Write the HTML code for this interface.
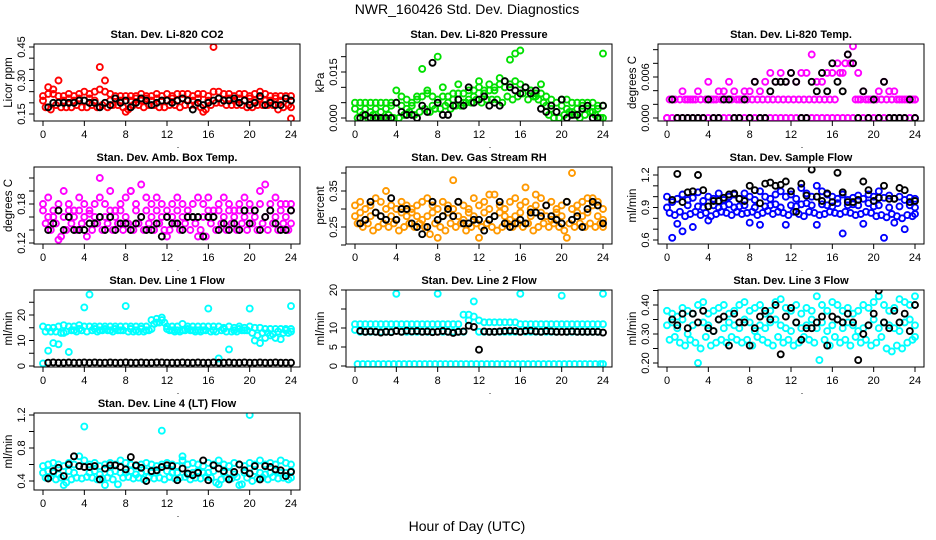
<!DOCTYPE html>
<html><head><meta charset="utf-8">
<style>
html,body{margin:0;padding:0;background:#fff;}
svg{display:block;font-family:"Liberation Sans",Arial,sans-serif;}
</style></head>
<body>
<svg id="chart" width="936" height="540" viewBox="0 0 936 540" xmlns="http://www.w3.org/2000/svg">
<text x="467" y="14" font-size="14" text-anchor="middle">NWR_160426  Std. Dev. Diagnostics</text>
<text x="467" y="531" font-size="14" text-anchor="middle">Hour of Day (UTC)</text>
</svg>
<script>
const hoursA = [0,0.5,1,1.5,2,2.5,3,3.5,4,4.5,5,5.5,6,6.5,7,7.5,8,8.5,9,9.5,10,10.5,11,11.5,12,12.5,13,13.5,14,14.5,15,15.5,16,16.5,17,17.5,18,18.5,19,19.5,20,20.5,21,21.5,22,22.5,23,23.5,24];
const hoursB = [0.25,0.75,1.25,1.75,2.25,2.75,3.25,3.75,4.25,4.75,5.25,5.75,6.25,6.75,7.25,7.75,8.25,8.75,9.25,9.75,10.25,10.75,11.25,11.75,12.25,12.75,13.25,13.75,14.25,14.75,15.25,15.75,16.25,16.75,17.25,17.75,18.25,18.75,19.25,19.75,20.25,20.75,21.25,21.75,22.25,22.75,23.25,23.75,24];
const blackHours = [0.5,1,1.5,2,2.5,3,3.5,4,4.5,5,5.5,6,6.5,7,7.5,8,8.5,9,9.5,10,10.5,11,11.5,12,12.5,13,13.5,14,14.5,15,15.5,16,16.5,17,17.5,18,18.5,19,19.5,20,20.5,21,21.5,22,22.5,23,23.5,24];
const xTicks = [0,4,8,12,16,20,24];

const co2C1 = [0.23,0.24,0.24,0.23,0.23,0.24,0.23,0.24,0.25,0.24,0.25,0.26,0.25,0.24,0.23,0.23,0.23,0.23,0.23,0.24,0.23,0.23,0.24,0.23,0.24,0.23,0.24,0.24,0.24,0.23,0.24,0.24,0.23,0.25,0.25,0.24,0.24,0.23,0.24,0.24,0.23,0.24,0.25,0.24,0.23,0.23,0.23,0.23,0.23];
const co2C2 = [0.18,0.17,0.19,0.18,0.18,0.18,0.19,0.18,0.18,0.19,0.18,0.19,0.18,0.19,0.19,0.18,0.17,0.19,0.19,0.18,0.19,0.19,0.18,0.18,0.19,0.19,0.18,0.19,0.19,0.19,0.18,0.17,0.19,0.20,0.20,0.19,0.19,0.19,0.19,0.18,0.18,0.19,0.19,0.19,0.19,0.17,0.18,0.19,0.18];
const co2C3 = [0.21,0.27,0.26,0.30,0.21,0.22,0.21,0.22,0.21,0.22,0.21,0.36,0.30,0.21,0.22,0.21,0.16,0.21,0.22,0.21,0.22,0.21,0.22,0.21,0.21,0.22,0.21,0.22,0.21,0.21,0.22,0.16,0.21,0.45,0.22,0.21,0.22,0.21,0.22,0.21,0.22,0.21,0.22,0.21,0.21,0.22,0.21,0.22,0.13];
const co2Black = [0.18,0.20,0.20,0.20,0.20,0.20,0.21,0.21,0.20,0.20,0.18,0.20,0.19,0.22,0.20,0.21,0.18,0.20,0.22,0.21,0.19,0.20,0.21,0.21,0.20,0.21,0.22,0.21,0.17,0.20,0.19,0.20,0.21,0.22,0.21,0.21,0.22,0.20,0.21,0.19,0.20,0.23,0.19,0.20,0.19,0.19,0.22,0.21];

const presC1 = [0.005,0.005,0.005,0.005,0.005,0.005,0.005,0.005,0.005,0.007,0.006,0.005,0.006,0.007,0.008,0.007,0.006,0.007,0.007,0.008,0.008,0.008,0.009,0.009,0.010,0.009,0.009,0.010,0.011,0.012,0.011,0.012,0.011,0.010,0.009,0.008,0.008,0.007,0.006,0.005,0.006,0.006,0.005,0.005,0.005,0.005,0.005,0.004,0.004];
const presC2 = [0.000,0.001,0.000,0.001,0.000,0.000,0.001,0.000,0.000,0.001,0.002,0.001,0.002,0.003,0.002,0.003,0.003,0.004,0.003,0.004,0.004,0.005,0.005,0.006,0.005,0.006,0.006,0.006,0.005,0.007,0.006,0.007,0.008,0.006,0.007,0.006,0.005,0.001,0.000,0.000,0.001,0.002,0.001,0.000,0.001,0.002,0.001,0.000,0.000];
const presC3 = [0.003,0.002,0.003,0.002,0.003,0.002,0.003,0.004,0.009,0.004,0.003,0.004,0.007,0.016,0.009,0.004,0.020,0.010,0.005,0.006,0.011,0.005,0.006,0.007,0.012,0.008,0.011,0.009,0.013,0.010,0.019,0.021,0.022,0.010,0.009,0.007,0.011,0.004,0.003,0.002,0.004,0.003,0.002,0.003,0.004,0.003,0.002,0.003,0.021];
const presBlack = [0.000,0.001,0.000,0.000,0.000,0.000,0.000,0.005,0.002,0.001,0.001,0.000,0.004,0.002,0.018,0.005,0.001,0.001,0.004,0.006,0.004,0.010,0.005,0.006,0.007,0.004,0.005,0.004,0.012,0.010,0.009,0.008,0.010,0.008,0.009,0.003,0.002,0.004,0.002,0.006,0.000,0.001,0.001,0.003,0.004,0.000,0.000,0.004];

const tempC1 = [0,0,0,0,0,0,0,0,0,0,0,0,0,0,0,0,0,0,0,0,0,0,0,0,0,0,0,0,0,0,0,0,0,0,0,0,0,0.0027,0,0,0,0,0,0,0,0,0,0,0];
const tempC2 = [0.0027,0.0027,0.0027,0.0027,0.0027,0.0027,0.0027,0.0027,0.0027,0.0027,0.0027,0.0027,0.0027,0.0027,0.0027,0.0027,0.0027,0.0027,0.0027,0.0027,0.0027,0.0027,0.0027,0.0027,0.0027,0.0027,0.0027,0.0027,0.0027,0.0027,0.0027,0.0027,0.0027,0.0066,0.008,0.008,0.0027,0.0027,0.0027,0.0027,0.0027,0.0027,0.0027,0.0027,0.0027,0.0027,0.0027,0.0027,0.0027];
const tempC3 = [0,0.0027,0,0.0039,0.0027,0.0027,0.0039,0,0.0053,0.0027,0.0039,0.0039,0.0053,0.0039,0.0027,0.0039,0.0039,0.0053,0.0039,0.0053,0.0066,0.0053,0.0066,0.0053,0.0066,0.0053,0.0066,0.0066,0.0093,0.0053,0.0053,0.0066,0.0066,0.008,0.0066,0.0093,0.0105,0.0066,0.0039,0.0027,0.0027,0.0039,0.0053,0.0039,0.0039,0.0027,0.0027,0.0027,0.0027];
const tempBlack = [0.0027,0,0,0,0,0,0,0.0027,0,0,0.0027,0.0027,0,0,0.0027,0,0.0053,0,0,0.0039,0.0053,0.0053,0.0053,0.0066,0.0053,0,0,0.0053,0.0039,0.0066,0.0039,0.0080,0.0053,0.0039,0.0093,0.0080,0,0.0039,0,0.0027,0,0.0053,0,0,0,0,0.0027,0];

const ambC1 = [0.18,0.19,0.17,0.18,0.20,0.18,0.17,0.19,0.18,0.17,0.18,0.19,0.18,0.20,0.17,0.18,0.19,0.20,0.18,0.21,0.19,0.18,0.19,0.18,0.17,0.18,0.19,0.18,0.17,0.18,0.19,0.18,0.19,0.17,0.18,0.19,0.18,0.17,0.18,0.19,0.18,0.17,0.18,0.21,0.18,0.19,0.18,0.18,0.18];
const ambC2 = [0.15,0.14,0.15,0.13,0.14,0.15,0.14,0.15,0.13,0.14,0.15,0.14,0.15,0.14,0.15,0.14,0.15,0.14,0.15,0.14,0.15,0.14,0.15,0.14,0.14,0.15,0.14,0.15,0.14,0.15,0.14,0.13,0.15,0.14,0.15,0.14,0.15,0.14,0.15,0.14,0.15,0.14,0.15,0.14,0.15,0.14,0.15,0.14,0.15];
const ambC3 = [0.17,0.16,0.16,0.125,0.16,0.17,0.16,0.17,0.16,0.165,0.16,0.22,0.16,0.17,0.16,0.17,0.16,0.20,0.17,0.16,0.17,0.16,0.17,0.16,0.13,0.16,0.17,0.16,0.17,0.16,0.13,0.16,0.17,0.16,0.17,0.16,0.17,0.16,0.17,0.16,0.17,0.16,0.20,0.16,0.17,0.16,0.17,0.16,0.17];
const ambBlack = [0.14,0.15,0.17,0.14,0.16,0.14,0.14,0.14,0.15,0.15,0.16,0.14,0.16,0.14,0.15,0.15,0.14,0.15,0.16,0.14,0.14,0.15,0.13,0.16,0.15,0.15,0.14,0.16,0.16,0.16,0.13,0.16,0.16,0.14,0.15,0.14,0.15,0.14,0.17,0.15,0.17,0.14,0.16,0.17,0.15,0.14,0.14,0.17];

const rhC1 = [0.31,0.32,0.30,0.31,0.33,0.32,0.30,0.31,0.30,0.32,0.31,0.30,0.31,0.32,0.33,0.31,0.30,0.32,0.31,0.30,0.32,0.31,0.30,0.33,0.31,0.32,0.30,0.34,0.31,0.30,0.32,0.33,0.31,0.32,0.30,0.31,0.33,0.31,0.32,0.30,0.31,0.32,0.30,0.31,0.32,0.33,0.31,0.32,0.30];
const rhC2 = [0.26,0.25,0.26,0.24,0.25,0.26,0.25,0.26,0.24,0.25,0.26,0.25,0.26,0.25,0.23,0.26,0.25,0.24,0.26,0.25,0.26,0.24,0.25,0.26,0.25,0.26,0.25,0.24,0.25,0.26,0.25,0.26,0.25,0.26,0.24,0.25,0.26,0.25,0.26,0.25,0.24,0.26,0.25,0.26,0.25,0.26,0.25,0.26,0.25];
const rhC3 = [0.28,0.29,0.27,0.28,0.29,0.28,0.35,0.28,0.27,0.29,0.28,0.29,0.28,0.27,0.28,0.29,0.22,0.28,0.29,0.38,0.28,0.27,0.29,0.28,0.22,0.29,0.34,0.28,0.29,0.28,0.27,0.28,0.29,0.36,0.28,0.34,0.29,0.28,0.27,0.29,0.28,0.22,0.40,0.29,0.28,0.29,0.33,0.28,0.27];
const rhBlack = [0.26,0.27,0.32,0.29,0.28,0.27,0.33,0.27,0.30,0.30,0.26,0.25,0.23,0.25,0.32,0.27,0.28,0.30,0.28,0.32,0.26,0.26,0.27,0.27,0.24,0.27,0.28,0.32,0.26,0.25,0.26,0.27,0.26,0.29,0.29,0.28,0.31,0.28,0.27,0.26,0.32,0.27,0.28,0.25,0.30,0.32,0.31,0.26];

const sfC1 = [1.0,0.95,0.98,1.02,0.97,0.99,1.04,0.96,1.0,0.98,1.03,0.97,1.0,1.02,0.98,1.03,1.0,0.97,1.05,1.0,0.98,1.02,1.05,1.0,1.02,0.98,1.08,1.03,1.0,1.1,1.05,1.02,1.0,0.98,1.02,0.97,0.99,1.01,0.98,1.02,1.0,1.05,0.99,1.01,0.98,1.0,0.97,0.99,0.98];
const sfC2 = [0.85,0.83,0.86,0.82,0.84,0.86,0.83,0.85,0.82,0.84,0.86,0.85,0.83,0.86,0.84,0.85,0.86,0.83,0.85,0.87,0.84,0.86,0.85,0.83,0.86,0.84,0.82,0.86,0.85,0.83,0.84,0.86,0.85,0.84,0.86,0.85,0.83,0.84,0.86,0.85,0.82,0.83,0.81,0.84,0.82,0.80,0.83,0.82,0.84];
const sfC3 = [0.9,0.62,0.75,0.68,0.92,0.72,0.91,0.9,0.78,0.92,0.9,0.91,0.93,0.9,0.91,0.92,0.76,0.9,0.74,0.91,0.92,0.93,0.90,0.74,0.92,0.91,0.93,0.94,0.92,0.74,0.93,0.92,0.91,0.94,0.66,0.92,0.93,0.92,0.75,0.94,0.91,0.92,0.62,0.90,0.76,0.91,0.70,0.92,0.90];
const sfBlack = [0.97,1.21,0.95,1.04,1.05,1.20,1.06,0.91,0.96,0.96,0.99,1.02,1.03,0.98,0.96,1.10,1.06,0.94,1.12,1.13,1.10,1.11,1.14,1.05,0.86,1.12,1.01,1.25,1.00,0.96,1.03,0.95,1.22,1.04,0.95,0.95,0.97,1.14,1.06,0.96,0.99,1.10,0.98,0.98,1.08,1.06,0.95,0.96];

const l1C1 = [15.5,15,15,15.5,16,15.5,15.5,16,15.5,15.5,15.5,15.5,15.5,15.5,15.5,15.5,15.5,15.5,15.5,15.5,15.5,18,18.5,18,15.5,15.5,15.5,16.5,15.5,15.5,15.5,15.5,15.5,15.5,15.5,15,15.5,15,15.5,15,15.5,15,15,14.5,14.5,14.5,14.5,14.5,14.5];
const l1C2 = [13.5,13.5,13.5,13,13.5,14,13.5,14,13.5,14,13.5,14,14,13.5,14,14,13.5,13.5,13.5,13.5,14,16.5,17,17,14,13.5,13.5,14,14,13.5,13.5,14,13.5,13.5,14,13.5,13.5,13.5,14,14,13,12,13,13,12.5,13.5,13,13,13.5];
const l1C3 = [1,6,9,8.5,13,5.5,14,14.5,23,28,14.5,14,14.5,14,14.5,14,23.5,14.5,14,14.5,14,14.5,17,19,14.5,14,14,14,14.5,14,14,14,22.5,14,3,14.5,6.5,14,14.5,14,22.5,10,9,11,12,11,10.5,14,23.5];
const l1Black = [1.3,1.4,1.3,1.3,1.4,1.3,1.3,1.4,1.3,1.4,1.3,1.3,1.4,1.3,1.3,1.4,1.3,1.3,1.4,1.3,1.3,1.4,1.4,1.3,1.3,1.3,1.4,1.3,1.3,1.4,1.3,1.3,1.4,1.3,1.3,1.4,1.3,1.3,1.4,1.3,1.3,1.4,1.3,1.3,1.4,1.3,1.3,1.3];

const l2C1 = [11,11,11,11,11,11,11,11,11,11,11,11,11,11,11,11,11,11,11,11,11,13.5,13.5,13,12,11.5,11.5,11.5,11.5,11.5,11.5,11.5,11,11,11,11,11,11,11,11,11,11,11,11,11,11,11,11,11];
const l2C2 = [0.5,0.5,0.5,0.5,0.5,0.5,0.5,0.5,0.5,0.5,0.5,0.5,0.5,0.5,0.5,0.5,0.5,0.5,0.5,0.5,0.5,0.5,0.5,0.5,0.5,0.5,0.5,0.5,0.5,0.5,0.5,0.5,0.5,0.5,0.5,0.5,0.5,0.5,0.5,0.5,0.5,0.5,0.5,0.5,0.5,0.5,0.5,0.5,0.5];
const l2C3 = [9.5,9,9,9,9,9,9,9,19,9,9,9,9,9,9,9,19,9,9,9,9,9,12,17,9,9,9,9,9,9,9,9,19,9,9,9,9,9,9,9,18.5,9,9,9,9,9,9,9,19];
const l2Black = [9.2,9,9.1,9,8.8,9,8.9,9.2,9,9.3,9.1,9.2,9,9.1,8.9,9,9.2,9,8.7,9,9.1,10.6,10.3,4.3,9.1,9,9,9.1,9.2,9.3,9.2,9,9.2,9.3,9.1,9,9.2,9.1,9,9,9,9.1,9,9,9,9,9,8.8];

const l3C1 = [0.38,0.37,0.36,0.39,0.38,0.37,0.40,0.41,0.37,0.38,0.39,0.40,0.37,0.38,0.40,0.41,0.38,0.39,0.40,0.37,0.38,0.41,0.42,0.39,0.38,0.40,0.37,0.39,0.38,0.43,0.40,0.38,0.41,0.40,0.38,0.39,0.37,0.38,0.40,0.39,0.41,0.43,0.40,0.38,0.39,0.42,0.41,0.40,0.43];
const l3C2 = [0.28,0.29,0.27,0.26,0.28,0.27,0.25,0.29,0.26,0.27,0.28,0.27,0.29,0.28,0.27,0.28,0.26,0.29,0.28,0.27,0.26,0.29,0.27,0.28,0.26,0.27,0.29,0.28,0.27,0.21,0.28,0.26,0.29,0.27,0.28,0.26,0.29,0.27,0.28,0.26,0.27,0.29,0.25,0.24,0.26,0.25,0.27,0.28,0.29];
const l3C3 = [0.33,0.34,0.32,0.35,0.30,0.33,0.20,0.34,0.33,0.31,0.35,0.32,0.34,0.33,0.32,0.35,0.34,0.31,0.33,0.32,0.34,0.35,0.33,0.32,0.31,0.34,0.32,0.33,0.35,0.32,0.34,0.31,0.33,0.35,0.32,0.34,0.33,0.31,0.32,0.33,0.35,0.32,0.34,0.33,0.32,0.31,0.34,0.35,0.33];
const l3Black = [0.35,0.33,0.37,0.32,0.37,0.34,0.38,0.32,0.31,0.35,0.36,0.26,0.37,0.34,0.34,0.26,0.32,0.36,0.38,0.35,0.40,0.23,0.36,0.39,0.34,0.28,0.32,0.32,0.34,0.36,0.26,0.36,0.35,0.34,0.37,0.34,0.21,0.30,0.33,0.37,0.45,0.34,0.32,0.38,0.34,0.37,0.31,0.40];

const l4C1 = [0.58,0.6,0.62,0.6,0.58,0.62,0.6,0.58,0.65,0.6,0.62,0.58,0.6,0.62,0.6,0.65,0.62,0.6,0.58,0.6,0.62,0.6,0.58,0.6,0.62,0.6,0.58,0.65,0.6,0.62,0.6,0.58,0.62,0.6,0.65,0.6,0.58,0.62,0.6,0.58,0.62,0.6,0.65,0.6,0.62,0.6,0.65,0.62,0.6];
const l4C2 = [0.44,0.45,0.42,0.44,0.38,0.42,0.44,0.43,0.45,0.44,0.42,0.43,0.44,0.42,0.36,0.44,0.45,0.43,0.44,0.42,0.45,0.43,0.44,0.42,0.45,0.43,0.44,0.45,0.42,0.44,0.43,0.45,0.44,0.38,0.42,0.44,0.43,0.45,0.36,0.44,0.40,0.43,0.44,0.42,0.45,0.43,0.44,0.42,0.44];
const l4C3 = [0.5,0.52,0.5,0.48,0.35,0.52,0.5,0.7,1.06,0.5,0.52,0.48,0.35,0.5,0.52,0.5,0.5,0.52,0.48,0.5,0.52,0.5,0.5,1.01,0.52,0.5,0.5,0.7,0.48,0.5,0.52,0.5,0.5,0.52,0.36,0.5,0.5,0.48,0.35,0.5,1.2,0.52,0.5,0.48,0.5,0.52,0.5,0.5,0.52];
const l4Black = [0.43,0.52,0.56,0.46,0.60,0.70,0.58,0.57,0.57,0.58,0.42,0.55,0.59,0.59,0.57,0.54,0.69,0.59,0.56,0.40,0.52,0.53,0.57,0.59,0.58,0.41,0.55,0.49,0.47,0.50,0.65,0.41,0.59,0.55,0.52,0.42,0.51,0.60,0.53,0.49,0.58,0.42,0.58,0.57,0.54,0.53,0.46,0.51];

const panels = [
 {name:'li820-co2',title:'Stan. Dev. Li-820 CO2',ylab:'Licor ppm',col:0,row:0,color:'#ff0000',c:[co2C1,co2C2,co2C3],k:co2Black,cal:[0.15,70,0.45,3],ticks:[0.15,0.20,0.25,0.30,0.35,0.40,0.45],labels:['0.15','0.30','0.45'],labelVals:[0.15,0.30,0.45]},
 {name:'li820-pressure',title:'Stan. Dev. Li-820 Pressure',ylab:'kPa',col:1,row:0,color:'#00e000',c:[presC1,presC2,presC3],k:presBlack,cal:[0,74,0.015,28],ticks:[0,0.005,0.010,0.015,0.020],labels:['0.000','0.015'],labelVals:[0,0.015]},
 {name:'li820-temp',title:'Stan. Dev. Li-820 Temp.',ylab:'degrees C',col:2,row:0,color:'#ff00ff',c:[tempC1,tempC2,tempC3],k:tempBlack,cal:[0,74,0.006,33],ticks:[0,0.002,0.004,0.006,0.008,0.010],labels:['0.000','0.006'],labelVals:[0,0.006]},
 {name:'amb-box-temp',title:'Stan. Dev. Amb. Box Temp.',ylab:'degrees C',col:0,row:1,color:'#ff00ff',c:[ambC1,ambC2,ambC3],k:ambBlack,cal:[0.12,76,0.18,37],ticks:[0.12,0.14,0.16,0.18,0.20,0.22],labels:['0.12','0.18'],labelVals:[0.12,0.18]},
 {name:'gas-stream-rh',title:'Stan. Dev. Gas Stream RH',ylab:'percent',col:1,row:1,color:'#ff9900',c:[rhC1,rhC2,rhC3],k:rhBlack,cal:[0.25,60,0.35,24],ticks:[0.20,0.25,0.30,0.35,0.40],labels:['0.25','0.35'],labelVals:[0.25,0.35]},
 {name:'sample-flow',title:'Stan. Dev. Sample Flow',ylab:'ml/min',col:2,row:1,color:'#0000ff',c:[sfC1,sfC2,sfC3],k:sfBlack,cal:[0.6,73,1.2,8],ticks:[0.6,0.7,0.8,0.9,1.0,1.1,1.2],labels:['0.6','0.9','1.2'],labelVals:[0.6,0.9,1.2]},
 {name:'line1-flow',title:'Stan. Dev. Line 1 Flow',ylab:'ml/min',col:0,row:2,color:'#00ffff',c:[l1C1,l1C2,l1C3],k:l1Black,cal:[0,76,20,25],ticks:[0,5,10,15,20,25],labels:['0','10','20'],labelVals:[0,10,20]},
 {name:'line2-flow',title:'Stan. Dev. Line 2 Flow',ylab:'ml/min',col:1,row:2,color:'#00ffff',c:[l2C1,l2C2,l2C3],k:l2Black,cal:[0,76,20,0],ticks:[0,5,10,15,20],labels:['0','5','10','20'],labelVals:[0,5,10,20]},
 {name:'line3-flow',title:'Stan. Dev. Line 3 Flow',ylab:'ml/min',col:2,row:2,color:'#00ffff',c:[l3C1,l3C2,l3C3],k:l3Black,cal:[0.20,73,0.40,15],ticks:[0.20,0.25,0.30,0.35,0.40,0.45],labels:['0.20','0.30','0.40'],labelVals:[0.20,0.30,0.40]},
 {name:'line4-flow',title:'Stan. Dev. Line 4 (LT) Flow',ylab:'ml/min',col:0,row:3,color:'#00ffff',c:[l4C1,l4C2,l4C3],k:l4Black,cal:[0.4,68,1.2,2],ticks:[0.4,0.6,0.8,1.0,1.2],labels:['0.4','0.8','1.2'],labelVals:[0.4,0.8,1.2]}
];

const NS='http://www.w3.org/2000/svg';
const svg=document.getElementById('chart');
function mk(tag,attrs,parent){const e=document.createElementNS(NS,tag);for(const k in attrs)e.setAttribute(k,attrs[k]);(parent||svg).appendChild(e);return e;}

panels.forEach(p=>{
  const off=p.col*312, top=44+123*p.row, left=34+off, right=300+off, bottom=top+77;
  const xs=t=>off+43+t*(248/24);
  const ys=v=>top+p.cal[1]+(v-p.cal[0])*(p.cal[3]-p.cal[1])/(p.cal[2]-p.cal[0]);
  const g=mk('g',{});
  
  
  const clip=mk('clipPath',{id:'clip-'+p.name},g);
  mk('rect',{x:left,y:top,width:right-left,height:bottom-top},clip);
  const marks=mk('g',{'clip-path':'url(#clip-'+p.name+')'},g);
  
  
  const timeSets=[hoursA,hoursB,hoursA];
  p.c.forEach((arr,si)=>{
    arr.forEach((v,i)=>{
      const c=mk('circle',{cx:xs(timeSets[si][i]).toFixed(1),cy:ys(v).toFixed(1),r:3,fill:'none',stroke:p.color,'stroke-width':1.9},marks);
      
      
    });
  });
  p.k.forEach((v,i)=>{
    const c=mk('circle',{cx:xs(blackHours[i]).toFixed(1),cy:ys(v).toFixed(1),r:3,fill:'none',stroke:'#000','stroke-width':1.9},marks);
    
    
  });
  const box=mk('rect',{x:left,y:top,width:right-left,height:bottom-top,fill:'none',stroke:'#000','stroke-width':1},g);
  
  
  const t=mk('text',{x:(left+right)/2,y:top-6,'font-size':11,'font-weight':'bold','text-anchor':'middle'},g);
  t.textContent=p.title;
  
  
  xTicks.forEach(h=>{
    mk('line',{x1:xs(h),x2:xs(h),y1:bottom,y2:bottom+5,stroke:'#000'},g);
    const l=mk('text',{x:xs(h),y:bottom+17,'font-size':11,'text-anchor':'middle'},g);
    l.textContent=h;
    
    
  });
  p.ticks.forEach(v=>{
    mk('line',{x1:left-5,x2:left,y1:ys(v),y2:ys(v),stroke:'#000'},g);
  });
  p.labelVals.forEach((v,i)=>{
    const l=mk('text',{x:0,y:0,'font-size':11,'text-anchor':'middle',transform:'translate('+(left-9)+','+ys(v).toFixed(1)+') rotate(-90)'},g);
    l.textContent=p.labels[i];
    
    
  });
  const yl=mk('text',{x:0,y:0,'font-size':11.5,'text-anchor':'middle',transform:'translate('+(off+12)+','+((top+bottom)/2)+') rotate(-90)'},g);
  yl.textContent=p.ylab;
  
  
  const dot=mk('text',{x:off+178,y:bottom+27,'font-size':9,'text-anchor':'middle'},g);
  dot.textContent='.';
  
  
});
</script>
</body></html>
